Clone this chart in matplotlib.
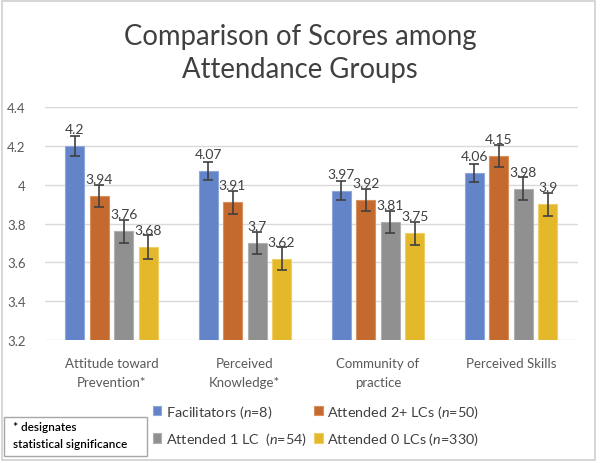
import matplotlib
matplotlib.use('Agg')
from matplotlib import pyplot as plt
from matplotlib.patches import Rectangle
import numpy as np

categories = ['Attitude toward\nPrevention*', 'Perceived\nKnowledge*', 'Community of\npractice', 'Perceived Skills']
series_names = ['Facilitators ($\\it{n}$=8)', 'Attended 2+ LCs ($\\it{n}$=50)',
                'Attended 1 LC  ($\\it{n}$=54)', 'Attended 0 LCs ($\\it{n}$=330)']
facilitators = [4.2, 4.07, 3.97, 4.06]
attended_2plus = [3.94, 3.91, 3.92, 4.15]
attended_1 = [3.76, 3.7, 3.81, 3.98]
attended_0 = [3.68, 3.62, 3.75, 3.9]
err_facilitators = [0.05, 0.045, 0.048, 0.047]
err_2plus = [0.057, 0.06, 0.057, 0.056]
err_1 = [0.06, 0.058, 0.057, 0.058]
err_0 = [0.06, 0.058, 0.059, 0.059]

values = [facilitators, attended_2plus, attended_1, attended_0]
errors = [err_facilitators, err_2plus, err_1, err_0]
colors = ['#6384C8', '#C56A2E', '#909090', '#E4B82B']
edges = ['#8FA8DC', '#D9905F', '#B0B0B0', '#F0CE63']

plt.rcParams['font.family'] = ['Lato', 'DejaVu Sans']
plt.rcParams['mathtext.fontset'] = 'custom'
plt.rcParams['mathtext.it'] = 'Lato:italic'
plt.rcParams['mathtext.rm'] = 'Lato'

fig = plt.figure(figsize=(6, 4.64), dpi=100)
ax = fig.add_axes([0.075, 0.265, 0.888, 0.502])

x = np.arange(len(categories))
width = 0.143
step = 0.184
handles = []
for i in range(4):
    pos = x + (i - 1.5) * step
    b = ax.bar(pos, values[i], width, color=colors[i], edgecolor=edges[i], linewidth=0.8,
               yerr=errors[i], error_kw=dict(ecolor='#404040', elinewidth=1.2, capsize=3.5, capthick=1.2),
               zorder=3)
    handles.append(b)
    for px, v in zip(pos, values[i]):
        ax.annotate(f'{v:g}', (px, v), xytext=(0, 11), textcoords='offset pixels',
                    ha='center', va='bottom', fontsize=10, color='#404040', zorder=4)

ax.set_ylim(3.2, 4.4)
ax.set_xlim(-0.5, 3.5)
ax.set_yticks(np.arange(3.2, 4.41, 0.2))
ax.set_yticklabels(['3.2', '3.4', '3.6', '3.8', '4', '4.2', '4.4'])
ax.set_xticks(x)
ax.set_xticklabels(categories, fontsize=9.5, color='#595959', linespacing=1.75)
ax.tick_params(axis='y', labelsize=9.5, labelcolor='#595959', length=0, pad=14)
ax.tick_params(axis='x', length=0, pad=12)
ax.yaxis.grid(True, color='#D9D9D9', linewidth=1, zorder=0)
for s in ax.spines.values():
    s.set_visible(False)

fig.text(0.5, 0.885, 'Comparison of Scores among\nAttendance Groups', ha='center', va='center',
         fontsize=19.8, color='#404040', linespacing=1.3)

order = [0, 2, 1, 3]
leg = fig.legend([handles[k] for k in order], [series_names[k] for k in order], ncol=2,
                 loc='center left', bbox_to_anchor=(0.233, 0.082), frameon=False, fontsize=10.4,
                 handlelength=0.6, handleheight=0.6, handletextpad=0.3, columnspacing=0.5,
                 labelspacing=0.7, labelcolor='#404040')

# note box in the lower left corner
fig.patches.append(Rectangle((0.006, 0.015), 0.239, 0.085, transform=fig.transFigure,
                             facecolor='white', edgecolor='#A6A6A6', linewidth=1))
fig.text(0.022, 0.06, '* designates\nstatistical significance', ha='left', va='center',
         fontsize=8.5, fontweight='semibold', color='black', linespacing=1.6)

# chart border
fig.patches.append(Rectangle((0.004, 0.006), 0.987, 0.989, transform=fig.transFigure,
                             facecolor='none', edgecolor='#D0D0D0', linewidth=1.2))

fig.savefig('out.png', dpi=100)
